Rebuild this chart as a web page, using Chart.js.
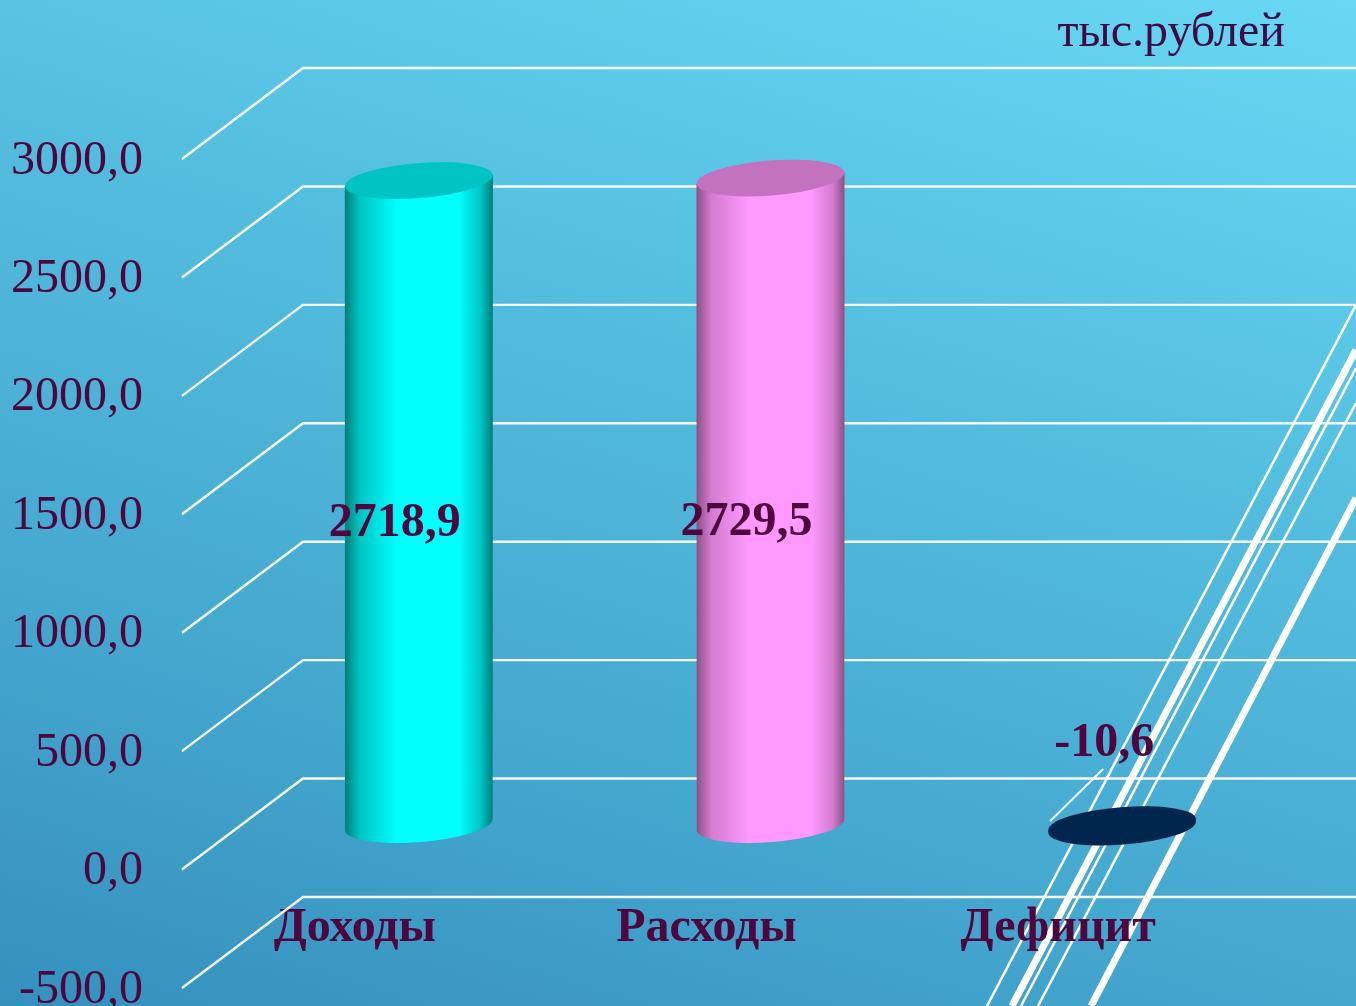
<!DOCTYPE html>
<html><head><meta charset="utf-8">
<style>
html,body{margin:0;padding:0;width:1356px;height:1006px;overflow:hidden;background:linear-gradient(197deg,#68d8f4 0%,#55bfe0 35%,#45a8cf 70%,#3590bd 100%);}
svg,canvas{position:absolute;left:0;top:0;display:block}
</style>
<script src="https://cdn.jsdelivr.net/npm/chart.js@4"></script>
</head><body>
<svg width="1356" height="1006">
<g stroke="#fff" fill="none">
<line x1="1356" y1="305" x2="987" y2="1006" stroke-width="2.5"/>
<line x1="1356" y1="350" x2="1012" y2="1006" stroke-width="7"/>
<line x1="1356" y1="368" x2="1021" y2="1006" stroke-width="2.5"/>
<line x1="1356" y1="403" x2="1038" y2="1006" stroke-width="2.5"/>
<line x1="1356" y1="498" x2="1091" y2="1006" stroke-width="7"/>
</g></svg>
<canvas id="c" width="1356" height="1006"></canvas>
<script>
const categories = ['Доходы', 'Расходы', 'Дефицит'];
const values = [2718.9, 2729.5, -10.6];
const axisMin = -500, axisMax = 3000, axisStep = 500;
const unitLabel = 'тыс.рублей';
const sideColors = ['#007d7a', '#8d4f86', '#00264d'];
const midColors = ['#00c4c2', '#d27ccf', '#00264d'];
const bodyColors = ['#00ffff', '#ff99ff', '#00264d'];
const capColors = ['#00c4c4', '#c272bf', '#00264d'];

const TEXT = '#4f063f', FONT = '"Liberation Serif","Times New Roman",serif';
const DX = 61, DY = -45, WALLX = 121, WALLY = -91, TILT = -4.5 * Math.PI / 180, RY = 17.5;
const fmt = v => v.toFixed(1).replace('.', ',');

function cylinderDraw(ctx) {
  const i = this.$context.dataIndex;
  const cx = this.x + DX, ty = this.y + DY, by = this.base + DY, rx = this.width / 2;
  const sh = rx * Math.sin(-TILT);
  const g = ctx.createLinearGradient(cx - rx, 0, cx + rx, 0);
  g.addColorStop(0, sideColors[i]);
  g.addColorStop(0.1, midColors[i]);
  g.addColorStop(0.35, bodyColors[i]);
  g.addColorStop(0.77, bodyColors[i]);
  g.addColorStop(0.92, midColors[i]);
  g.addColorStop(1, sideColors[i]);
  const top = Math.min(ty, by), bot = Math.max(ty, by);
  ctx.save();
  ctx.fillStyle = g;
  ctx.beginPath();
  ctx.moveTo(cx + rx, top - sh);
  ctx.lineTo(cx - rx, top + sh);
  ctx.ellipse(cx, bot, rx, RY, TILT, Math.PI, 0, true);
  ctx.closePath();
  ctx.fill();
  ctx.fillStyle = capColors[i];
  ctx.beginPath();
  ctx.ellipse(cx, top, rx, RY, TILT, 0, Math.PI * 2);
  ctx.fill();
  ctx.restore();
}

const scenePlugin = {
  id: 'scene',
  beforeDatasetsDraw(chart) {
    const ctx = chart.ctx, y = chart.scales.y, a = chart.chartArea;
    ctx.save();
    ctx.strokeStyle = 'rgba(255,255,255,0.95)';
    ctx.lineWidth = 2.4;
    y.ticks.forEach(t => {
      const p = y.getPixelForValue(t.value);
      ctx.beginPath();
      ctx.moveTo(a.left, p);
      ctx.lineTo(a.left + WALLX, p + WALLY);
      ctx.lineTo(chart.width, p + WALLY);
      ctx.stroke();
    });
    ctx.restore();
    chart.getDatasetMeta(0).data.forEach(el => { el.draw = cylinderDraw; });
  },
  afterDatasetsDraw(chart) {
    const ctx = chart.ctx, meta = chart.getDatasetMeta(0);
    ctx.save();
    ctx.fillStyle = TEXT;
    ctx.textAlign = 'center';
    ctx.textBaseline = 'middle';
    ctx.font = 'bold 48px ' + FONT;
    meta.data.forEach((el, i) => {
      const cx = el.x + DX;
      const neg = values[i] < 0;
      const lx = cx + (neg ? -18 : -24);
      const ly = neg ? el.y + DY - 83 : (el.y + el.base) / 2 + DY + 21;
      ctx.fillText(fmt(values[i]), lx, ly);
      if (neg) {
        ctx.strokeStyle = 'rgba(255,255,255,0.95)';
        ctx.lineWidth = 2;
        ctx.beginPath();
        ctx.moveTo(cx - 72, el.y + DY - 6);
        ctx.lineTo(cx - 19, el.y + DY - 58);
        ctx.stroke();
      }
    });
    ctx.textAlign = 'right';
    ctx.font = '48px ' + FONT;
    ctx.fillStyle = '#3f0b47';
    ctx.fillText(unitLabel, 1285, 33);
    ctx.restore();
  }
};

new Chart(document.getElementById('c'), {
  type: 'bar',
  data: {
    labels: categories,
    datasets: [{ label: unitLabel, data: values, backgroundColor: bodyColors, categoryPercentage: 0.421, barPercentage: 1, clip: false }]
  },
  plugins: [scenePlugin],
  options: {
    responsive: false,
    animation: false,
    layout: { padding: { left: 0, right: 119, top: 159, bottom: 18 } },
    plugins: { legend: { display: false }, tooltip: { enabled: false } },
    scales: {
      x: {
        position: { y: 0 },
        grid: { display: false }, border: { display: false },
        ticks: { color: TEXT, font: { family: FONT, size: 48, weight: 'bold' }, padding: 22, labelOffset: -3, maxRotation: 0, autoSkip: false },
        afterFit(s) { s.height = 0; s.paddingLeft = 0; s.paddingRight = 0; }
      },
      y: {
        min: axisMin, max: axisMax,
        grid: { display: false }, border: { display: false },
        ticks: { stepSize: axisStep, color: TEXT, font: { family: FONT, size: 48 }, padding: 31, labelOffset: 2, callback: v => fmt(v) },
        afterFit(s) { s.width = 182; s.paddingTop = 0; s.paddingBottom = 0; }
      }
    }
  }
});
</script>
</body></html>
